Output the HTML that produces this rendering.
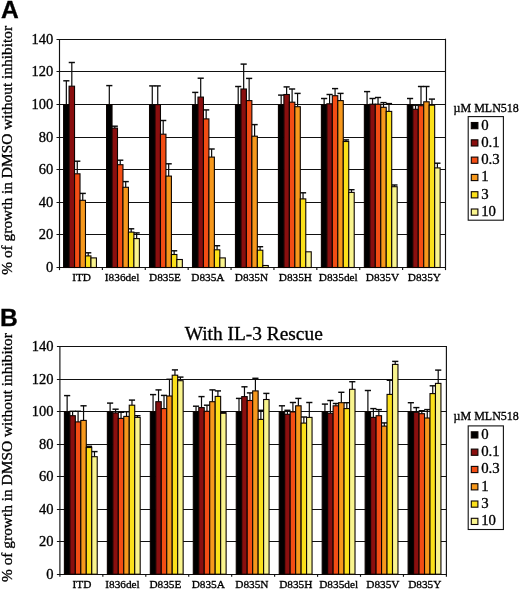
<!DOCTYPE html>
<html><head><meta charset="utf-8"><title>Figure</title>
<style>html,body{margin:0;padding:0;background:#fff}svg{display:block}text{stroke:#000;stroke-width:0.32px}</style></head>
<body>
<svg width="520" height="590" viewBox="0 0 520 590" font-family="'Liberation Serif', serif" fill="#000">
<rect width="520" height="590" fill="#fff"/>
<text x="0.9" y="18.3" font-family="'Liberation Sans', sans-serif" font-weight="bold" font-size="24.6" fill="#000">A</text>
<text x="0" y="326.3" font-family="'Liberation Sans', sans-serif" font-weight="bold" font-size="24.6" fill="#000">B</text>
<text x="253.7" y="340.1" text-anchor="middle" font-size="19.4">With IL-3 Rescue</text>
<line x1="56.50" y1="39.50" x2="445.50" y2="39.50" stroke="#111" stroke-width="1.2"/>
<text x="53.20" y="44.40" text-anchor="end" font-size="14.5">140</text>
<line x1="56.50" y1="71.50" x2="445.50" y2="71.50" stroke="#111" stroke-width="1.2"/>
<text x="53.20" y="76.40" text-anchor="end" font-size="14.5">120</text>
<line x1="56.50" y1="104.50" x2="445.50" y2="104.50" stroke="#111" stroke-width="1.2"/>
<text x="53.20" y="109.40" text-anchor="end" font-size="14.5">100</text>
<line x1="56.50" y1="137.50" x2="445.50" y2="137.50" stroke="#111" stroke-width="1.2"/>
<text x="53.20" y="142.40" text-anchor="end" font-size="14.5">80</text>
<line x1="56.50" y1="169.50" x2="445.50" y2="169.50" stroke="#111" stroke-width="1.2"/>
<text x="53.20" y="174.40" text-anchor="end" font-size="14.5">60</text>
<line x1="56.50" y1="202.50" x2="445.50" y2="202.50" stroke="#111" stroke-width="1.2"/>
<text x="53.20" y="207.40" text-anchor="end" font-size="14.5">40</text>
<line x1="56.50" y1="234.50" x2="445.50" y2="234.50" stroke="#111" stroke-width="1.2"/>
<text x="53.20" y="239.40" text-anchor="end" font-size="14.5">20</text>
<line x1="56.50" y1="267.50" x2="445.50" y2="267.50" stroke="#111" stroke-width="1.2"/>
<text x="53.20" y="272.40" text-anchor="end" font-size="14.5">0</text>
<line x1="59.50" y1="39.20" x2="59.50" y2="270.10" stroke="#111" stroke-width="1.15"/>
<line x1="445.50" y1="38.70" x2="445.50" y2="270.10" stroke="#111" stroke-width="1.15"/>
<line x1="102.39" y1="267.50" x2="102.39" y2="270.10" stroke="#111" stroke-width="1.15"/>
<line x1="145.28" y1="267.50" x2="145.28" y2="270.10" stroke="#111" stroke-width="1.15"/>
<line x1="188.17" y1="267.50" x2="188.17" y2="270.10" stroke="#111" stroke-width="1.15"/>
<line x1="231.06" y1="267.50" x2="231.06" y2="270.10" stroke="#111" stroke-width="1.15"/>
<line x1="273.94" y1="267.50" x2="273.94" y2="270.10" stroke="#111" stroke-width="1.15"/>
<line x1="316.83" y1="267.50" x2="316.83" y2="270.10" stroke="#111" stroke-width="1.15"/>
<line x1="359.72" y1="267.50" x2="359.72" y2="270.10" stroke="#111" stroke-width="1.15"/>
<line x1="402.61" y1="267.50" x2="402.61" y2="270.10" stroke="#111" stroke-width="1.15"/>
<line x1="66.34" y1="80.80" x2="66.34" y2="104.60" stroke="#0a0a0a" stroke-width="1.2"/>
<line x1="63.25" y1="80.80" x2="69.42" y2="80.80" stroke="#0a0a0a" stroke-width="1.45"/>
<line x1="71.81" y1="62.50" x2="71.81" y2="86.20" stroke="#0a0a0a" stroke-width="1.2"/>
<line x1="68.72" y1="62.50" x2="74.89" y2="62.50" stroke="#0a0a0a" stroke-width="1.45"/>
<line x1="77.28" y1="161.20" x2="77.28" y2="173.80" stroke="#0a0a0a" stroke-width="1.2"/>
<line x1="74.19" y1="161.20" x2="80.36" y2="161.20" stroke="#0a0a0a" stroke-width="1.45"/>
<line x1="82.75" y1="193.40" x2="82.75" y2="200.30" stroke="#0a0a0a" stroke-width="1.2"/>
<line x1="79.66" y1="193.40" x2="85.83" y2="193.40" stroke="#0a0a0a" stroke-width="1.45"/>
<line x1="88.22" y1="252.80" x2="88.22" y2="255.90" stroke="#0a0a0a" stroke-width="1.2"/>
<line x1="85.13" y1="252.80" x2="91.30" y2="252.80" stroke="#0a0a0a" stroke-width="1.45"/>
<rect x="63.60" y="104.60" width="5.47" height="162.90" fill="#000000" stroke="#0c0402" stroke-width="1.1"/>
<rect x="69.07" y="86.20" width="5.47" height="181.30" fill="#8a0f0f" stroke="#0c0402" stroke-width="1.1"/>
<rect x="74.54" y="173.80" width="5.47" height="93.70" fill="#f34d14" stroke="#0c0402" stroke-width="1.1"/>
<rect x="80.01" y="200.30" width="5.47" height="67.20" fill="#f6981c" stroke="#0c0402" stroke-width="1.1"/>
<rect x="85.48" y="255.90" width="5.47" height="11.60" fill="#fbe01a" stroke="#0c0402" stroke-width="1.1"/>
<rect x="90.95" y="257.90" width="5.47" height="9.60" fill="#f9f48e" stroke="#0c0402" stroke-width="1.1"/>
<text x="81.60" y="280.70" text-anchor="middle" font-size="11.3">ITD</text>
<line x1="109.30" y1="85.60" x2="109.30" y2="104.60" stroke="#0a0a0a" stroke-width="1.2"/>
<line x1="106.22" y1="85.60" x2="112.38" y2="85.60" stroke="#0a0a0a" stroke-width="1.45"/>
<line x1="114.77" y1="126.20" x2="114.77" y2="128.10" stroke="#0a0a0a" stroke-width="1.2"/>
<line x1="111.69" y1="126.20" x2="117.85" y2="126.20" stroke="#0a0a0a" stroke-width="1.45"/>
<line x1="120.24" y1="160.20" x2="120.24" y2="164.70" stroke="#0a0a0a" stroke-width="1.2"/>
<line x1="117.16" y1="160.20" x2="123.32" y2="160.20" stroke="#0a0a0a" stroke-width="1.45"/>
<line x1="125.71" y1="181.60" x2="125.71" y2="187.30" stroke="#0a0a0a" stroke-width="1.2"/>
<line x1="122.62" y1="181.60" x2="128.79" y2="181.60" stroke="#0a0a0a" stroke-width="1.45"/>
<line x1="131.18" y1="228.80" x2="131.18" y2="232.10" stroke="#0a0a0a" stroke-width="1.2"/>
<line x1="128.09" y1="228.80" x2="134.26" y2="228.80" stroke="#0a0a0a" stroke-width="1.45"/>
<line x1="136.65" y1="232.90" x2="136.65" y2="238.60" stroke="#0a0a0a" stroke-width="1.2"/>
<line x1="133.56" y1="232.90" x2="139.73" y2="232.90" stroke="#0a0a0a" stroke-width="1.45"/>
<rect x="106.56" y="104.60" width="5.47" height="162.90" fill="#000000" stroke="#0c0402" stroke-width="1.1"/>
<rect x="112.03" y="128.10" width="5.47" height="139.40" fill="#8a0f0f" stroke="#0c0402" stroke-width="1.1"/>
<rect x="117.50" y="164.70" width="5.47" height="102.80" fill="#f34d14" stroke="#0c0402" stroke-width="1.1"/>
<rect x="122.97" y="187.30" width="5.47" height="80.20" fill="#f6981c" stroke="#0c0402" stroke-width="1.1"/>
<rect x="128.44" y="232.10" width="5.47" height="35.40" fill="#fbe01a" stroke="#0c0402" stroke-width="1.1"/>
<rect x="133.91" y="238.60" width="5.47" height="28.90" fill="#f9f48e" stroke="#0c0402" stroke-width="1.1"/>
<text x="122.10" y="280.70" text-anchor="middle" font-size="11.3">I836del</text>
<line x1="152.27" y1="85.90" x2="152.27" y2="104.60" stroke="#0a0a0a" stroke-width="1.2"/>
<line x1="149.18" y1="85.90" x2="155.35" y2="85.90" stroke="#0a0a0a" stroke-width="1.45"/>
<line x1="157.74" y1="85.90" x2="157.74" y2="104.60" stroke="#0a0a0a" stroke-width="1.2"/>
<line x1="154.65" y1="85.90" x2="160.82" y2="85.90" stroke="#0a0a0a" stroke-width="1.45"/>
<line x1="163.21" y1="120.50" x2="163.21" y2="134.20" stroke="#0a0a0a" stroke-width="1.2"/>
<line x1="160.12" y1="120.50" x2="166.29" y2="120.50" stroke="#0a0a0a" stroke-width="1.45"/>
<line x1="168.68" y1="163.80" x2="168.68" y2="176.10" stroke="#0a0a0a" stroke-width="1.2"/>
<line x1="165.59" y1="163.80" x2="171.76" y2="163.80" stroke="#0a0a0a" stroke-width="1.45"/>
<line x1="174.15" y1="250.80" x2="174.15" y2="254.50" stroke="#0a0a0a" stroke-width="1.2"/>
<line x1="171.06" y1="250.80" x2="177.23" y2="250.80" stroke="#0a0a0a" stroke-width="1.45"/>
<rect x="149.53" y="104.60" width="5.47" height="162.90" fill="#000000" stroke="#0c0402" stroke-width="1.1"/>
<rect x="155.00" y="104.60" width="5.47" height="162.90" fill="#8a0f0f" stroke="#0c0402" stroke-width="1.1"/>
<rect x="160.47" y="134.20" width="5.47" height="133.30" fill="#f34d14" stroke="#0c0402" stroke-width="1.1"/>
<rect x="165.94" y="176.10" width="5.47" height="91.40" fill="#f6981c" stroke="#0c0402" stroke-width="1.1"/>
<rect x="171.41" y="254.50" width="5.47" height="13.00" fill="#fbe01a" stroke="#0c0402" stroke-width="1.1"/>
<rect x="176.88" y="259.50" width="5.47" height="8.00" fill="#f9f48e" stroke="#0c0402" stroke-width="1.1"/>
<text x="165.00" y="280.70" text-anchor="middle" font-size="11.3">D835E</text>
<line x1="195.23" y1="92.40" x2="195.23" y2="104.60" stroke="#0a0a0a" stroke-width="1.2"/>
<line x1="192.15" y1="92.40" x2="198.31" y2="92.40" stroke="#0a0a0a" stroke-width="1.45"/>
<line x1="200.70" y1="78.20" x2="200.70" y2="97.10" stroke="#0a0a0a" stroke-width="1.2"/>
<line x1="197.62" y1="78.20" x2="203.78" y2="78.20" stroke="#0a0a0a" stroke-width="1.45"/>
<line x1="206.17" y1="109.90" x2="206.17" y2="118.90" stroke="#0a0a0a" stroke-width="1.2"/>
<line x1="203.09" y1="109.90" x2="209.25" y2="109.90" stroke="#0a0a0a" stroke-width="1.45"/>
<line x1="211.64" y1="149.00" x2="211.64" y2="157.10" stroke="#0a0a0a" stroke-width="1.2"/>
<line x1="208.56" y1="149.00" x2="214.72" y2="149.00" stroke="#0a0a0a" stroke-width="1.45"/>
<line x1="217.11" y1="245.70" x2="217.11" y2="249.80" stroke="#0a0a0a" stroke-width="1.2"/>
<line x1="214.03" y1="245.70" x2="220.19" y2="245.70" stroke="#0a0a0a" stroke-width="1.45"/>
<rect x="192.50" y="104.60" width="5.47" height="162.90" fill="#000000" stroke="#0c0402" stroke-width="1.1"/>
<rect x="197.97" y="97.10" width="5.47" height="170.40" fill="#8a0f0f" stroke="#0c0402" stroke-width="1.1"/>
<rect x="203.44" y="118.90" width="5.47" height="148.60" fill="#f34d14" stroke="#0c0402" stroke-width="1.1"/>
<rect x="208.91" y="157.10" width="5.47" height="110.40" fill="#f6981c" stroke="#0c0402" stroke-width="1.1"/>
<rect x="214.38" y="249.80" width="5.47" height="17.70" fill="#fbe01a" stroke="#0c0402" stroke-width="1.1"/>
<rect x="219.84" y="257.90" width="5.47" height="9.60" fill="#f9f48e" stroke="#0c0402" stroke-width="1.1"/>
<text x="207.90" y="280.70" text-anchor="middle" font-size="11.3">D835A</text>
<line x1="238.20" y1="86.50" x2="238.20" y2="104.60" stroke="#0a0a0a" stroke-width="1.2"/>
<line x1="235.11" y1="86.50" x2="241.28" y2="86.50" stroke="#0a0a0a" stroke-width="1.45"/>
<line x1="243.67" y1="64.10" x2="243.67" y2="89.00" stroke="#0a0a0a" stroke-width="1.2"/>
<line x1="240.58" y1="64.10" x2="246.75" y2="64.10" stroke="#0a0a0a" stroke-width="1.45"/>
<line x1="249.14" y1="78.40" x2="249.14" y2="100.60" stroke="#0a0a0a" stroke-width="1.2"/>
<line x1="246.05" y1="78.40" x2="252.22" y2="78.40" stroke="#0a0a0a" stroke-width="1.45"/>
<line x1="254.61" y1="124.60" x2="254.61" y2="136.20" stroke="#0a0a0a" stroke-width="1.2"/>
<line x1="251.52" y1="124.60" x2="257.69" y2="124.60" stroke="#0a0a0a" stroke-width="1.45"/>
<line x1="260.08" y1="246.70" x2="260.08" y2="250.20" stroke="#0a0a0a" stroke-width="1.2"/>
<line x1="256.99" y1="246.70" x2="263.16" y2="246.70" stroke="#0a0a0a" stroke-width="1.45"/>
<rect x="235.46" y="104.60" width="5.47" height="162.90" fill="#000000" stroke="#0c0402" stroke-width="1.1"/>
<rect x="240.93" y="89.00" width="5.47" height="178.50" fill="#8a0f0f" stroke="#0c0402" stroke-width="1.1"/>
<rect x="246.40" y="100.60" width="5.47" height="166.90" fill="#f34d14" stroke="#0c0402" stroke-width="1.1"/>
<rect x="251.87" y="136.20" width="5.47" height="131.30" fill="#f6981c" stroke="#0c0402" stroke-width="1.1"/>
<rect x="257.34" y="250.20" width="5.47" height="17.30" fill="#fbe01a" stroke="#0c0402" stroke-width="1.1"/>
<rect x="262.81" y="265.50" width="5.47" height="2.00" fill="#f9f48e" stroke="#0c0402" stroke-width="1.1"/>
<text x="251.50" y="280.70" text-anchor="middle" font-size="11.3">D835N</text>
<line x1="281.16" y1="95.10" x2="281.16" y2="104.60" stroke="#0a0a0a" stroke-width="1.2"/>
<line x1="278.07" y1="95.10" x2="284.25" y2="95.10" stroke="#0a0a0a" stroke-width="1.45"/>
<line x1="286.63" y1="86.90" x2="286.63" y2="94.50" stroke="#0a0a0a" stroke-width="1.2"/>
<line x1="283.55" y1="86.90" x2="289.72" y2="86.90" stroke="#0a0a0a" stroke-width="1.45"/>
<line x1="292.10" y1="89.00" x2="292.10" y2="102.20" stroke="#0a0a0a" stroke-width="1.2"/>
<line x1="289.01" y1="89.00" x2="295.19" y2="89.00" stroke="#0a0a0a" stroke-width="1.45"/>
<line x1="297.57" y1="93.40" x2="297.57" y2="106.70" stroke="#0a0a0a" stroke-width="1.2"/>
<line x1="294.49" y1="93.40" x2="300.66" y2="93.40" stroke="#0a0a0a" stroke-width="1.45"/>
<line x1="303.04" y1="192.80" x2="303.04" y2="198.90" stroke="#0a0a0a" stroke-width="1.2"/>
<line x1="299.95" y1="192.80" x2="306.13" y2="192.80" stroke="#0a0a0a" stroke-width="1.45"/>
<rect x="278.43" y="104.60" width="5.47" height="162.90" fill="#000000" stroke="#0c0402" stroke-width="1.1"/>
<rect x="283.90" y="94.50" width="5.47" height="173.00" fill="#8a0f0f" stroke="#0c0402" stroke-width="1.1"/>
<rect x="289.37" y="102.20" width="5.47" height="165.30" fill="#f34d14" stroke="#0c0402" stroke-width="1.1"/>
<rect x="294.84" y="106.70" width="5.47" height="160.80" fill="#f6981c" stroke="#0c0402" stroke-width="1.1"/>
<rect x="300.31" y="198.90" width="5.47" height="68.60" fill="#fbe01a" stroke="#0c0402" stroke-width="1.1"/>
<rect x="305.78" y="251.80" width="5.47" height="15.70" fill="#f9f48e" stroke="#0c0402" stroke-width="1.1"/>
<text x="295.40" y="280.70" text-anchor="middle" font-size="11.3">D835H</text>
<line x1="324.13" y1="98.50" x2="324.13" y2="104.60" stroke="#0a0a0a" stroke-width="1.2"/>
<line x1="321.04" y1="98.50" x2="327.21" y2="98.50" stroke="#0a0a0a" stroke-width="1.45"/>
<line x1="329.60" y1="94.50" x2="329.60" y2="103.80" stroke="#0a0a0a" stroke-width="1.2"/>
<line x1="326.51" y1="94.50" x2="332.68" y2="94.50" stroke="#0a0a0a" stroke-width="1.45"/>
<line x1="335.07" y1="88.60" x2="335.07" y2="95.70" stroke="#0a0a0a" stroke-width="1.2"/>
<line x1="331.98" y1="88.60" x2="338.15" y2="88.60" stroke="#0a0a0a" stroke-width="1.45"/>
<line x1="340.54" y1="93.40" x2="340.54" y2="100.60" stroke="#0a0a0a" stroke-width="1.2"/>
<line x1="337.45" y1="93.40" x2="343.62" y2="93.40" stroke="#0a0a0a" stroke-width="1.45"/>
<line x1="346.01" y1="139.90" x2="346.01" y2="141.50" stroke="#0a0a0a" stroke-width="1.2"/>
<line x1="342.92" y1="139.90" x2="349.09" y2="139.90" stroke="#0a0a0a" stroke-width="1.45"/>
<line x1="351.48" y1="189.70" x2="351.48" y2="192.40" stroke="#0a0a0a" stroke-width="1.2"/>
<line x1="348.39" y1="189.70" x2="354.56" y2="189.70" stroke="#0a0a0a" stroke-width="1.45"/>
<rect x="321.39" y="104.60" width="5.47" height="162.90" fill="#000000" stroke="#0c0402" stroke-width="1.1"/>
<rect x="326.86" y="103.80" width="5.47" height="163.70" fill="#8a0f0f" stroke="#0c0402" stroke-width="1.1"/>
<rect x="332.33" y="95.70" width="5.47" height="171.80" fill="#f34d14" stroke="#0c0402" stroke-width="1.1"/>
<rect x="337.80" y="100.60" width="5.47" height="166.90" fill="#f6981c" stroke="#0c0402" stroke-width="1.1"/>
<rect x="343.27" y="141.50" width="5.47" height="126.00" fill="#fbe01a" stroke="#0c0402" stroke-width="1.1"/>
<rect x="348.74" y="192.40" width="5.47" height="75.10" fill="#f9f48e" stroke="#0c0402" stroke-width="1.1"/>
<text x="338.25" y="280.70" text-anchor="middle" font-size="11.3">D835del</text>
<line x1="367.09" y1="91.60" x2="367.09" y2="104.60" stroke="#0a0a0a" stroke-width="1.2"/>
<line x1="364.00" y1="91.60" x2="370.18" y2="91.60" stroke="#0a0a0a" stroke-width="1.45"/>
<line x1="372.56" y1="98.50" x2="372.56" y2="104.20" stroke="#0a0a0a" stroke-width="1.2"/>
<line x1="369.48" y1="98.50" x2="375.65" y2="98.50" stroke="#0a0a0a" stroke-width="1.45"/>
<line x1="378.03" y1="97.50" x2="378.03" y2="104.20" stroke="#0a0a0a" stroke-width="1.2"/>
<line x1="374.94" y1="97.50" x2="381.12" y2="97.50" stroke="#0a0a0a" stroke-width="1.45"/>
<line x1="383.50" y1="102.60" x2="383.50" y2="107.30" stroke="#0a0a0a" stroke-width="1.2"/>
<line x1="380.42" y1="102.60" x2="386.59" y2="102.60" stroke="#0a0a0a" stroke-width="1.45"/>
<line x1="388.97" y1="103.60" x2="388.97" y2="111.40" stroke="#0a0a0a" stroke-width="1.2"/>
<line x1="385.88" y1="103.60" x2="392.06" y2="103.60" stroke="#0a0a0a" stroke-width="1.45"/>
<line x1="394.44" y1="185.00" x2="394.44" y2="186.70" stroke="#0a0a0a" stroke-width="1.2"/>
<line x1="391.36" y1="185.00" x2="397.53" y2="185.00" stroke="#0a0a0a" stroke-width="1.45"/>
<rect x="364.36" y="104.60" width="5.47" height="162.90" fill="#000000" stroke="#0c0402" stroke-width="1.1"/>
<rect x="369.83" y="104.20" width="5.47" height="163.30" fill="#8a0f0f" stroke="#0c0402" stroke-width="1.1"/>
<rect x="375.30" y="104.20" width="5.47" height="163.30" fill="#f34d14" stroke="#0c0402" stroke-width="1.1"/>
<rect x="380.77" y="107.30" width="5.47" height="160.20" fill="#f6981c" stroke="#0c0402" stroke-width="1.1"/>
<rect x="386.24" y="111.40" width="5.47" height="156.10" fill="#fbe01a" stroke="#0c0402" stroke-width="1.1"/>
<rect x="391.71" y="186.70" width="5.47" height="80.80" fill="#f9f48e" stroke="#0c0402" stroke-width="1.1"/>
<text x="382.50" y="280.70" text-anchor="middle" font-size="11.3">D835V</text>
<line x1="410.06" y1="98.50" x2="410.06" y2="104.60" stroke="#0a0a0a" stroke-width="1.2"/>
<line x1="406.97" y1="98.50" x2="413.14" y2="98.50" stroke="#0a0a0a" stroke-width="1.45"/>
<line x1="415.53" y1="105.20" x2="415.53" y2="109.30" stroke="#0a0a0a" stroke-width="1.2"/>
<line x1="412.44" y1="105.20" x2="418.61" y2="105.20" stroke="#0a0a0a" stroke-width="1.45"/>
<line x1="421.00" y1="86.50" x2="421.00" y2="105.70" stroke="#0a0a0a" stroke-width="1.2"/>
<line x1="417.91" y1="86.50" x2="424.08" y2="86.50" stroke="#0a0a0a" stroke-width="1.45"/>
<line x1="426.47" y1="86.50" x2="426.47" y2="101.80" stroke="#0a0a0a" stroke-width="1.2"/>
<line x1="423.38" y1="86.50" x2="429.55" y2="86.50" stroke="#0a0a0a" stroke-width="1.45"/>
<line x1="431.94" y1="99.10" x2="431.94" y2="105.20" stroke="#0a0a0a" stroke-width="1.2"/>
<line x1="428.85" y1="99.10" x2="435.02" y2="99.10" stroke="#0a0a0a" stroke-width="1.45"/>
<line x1="437.41" y1="163.20" x2="437.41" y2="167.90" stroke="#0a0a0a" stroke-width="1.2"/>
<line x1="434.32" y1="163.20" x2="440.49" y2="163.20" stroke="#0a0a0a" stroke-width="1.45"/>
<rect x="407.32" y="104.60" width="5.47" height="162.90" fill="#000000" stroke="#0c0402" stroke-width="1.1"/>
<rect x="412.79" y="109.30" width="5.47" height="158.20" fill="#8a0f0f" stroke="#0c0402" stroke-width="1.1"/>
<rect x="418.26" y="105.70" width="5.47" height="161.80" fill="#f34d14" stroke="#0c0402" stroke-width="1.1"/>
<rect x="423.73" y="101.80" width="5.47" height="165.70" fill="#f6981c" stroke="#0c0402" stroke-width="1.1"/>
<rect x="429.20" y="105.20" width="5.47" height="162.30" fill="#fbe01a" stroke="#0c0402" stroke-width="1.1"/>
<rect x="434.67" y="167.90" width="5.47" height="99.60" fill="#f9f48e" stroke="#0c0402" stroke-width="1.1"/>
<text x="424.40" y="280.70" text-anchor="middle" font-size="11.3">D835Y</text>
<text x="453.6" y="112.20" font-size="12">µM MLN518</text>
<rect x="468.2" y="116.60" width="35.2" height="103.6" fill="#fff" stroke="#111" stroke-width="1.1"/>
<rect x="471.3" y="122.50" width="6.6" height="6.2" fill="#000000" stroke="#0c0402" stroke-width="1.1"/>
<text x="481.2" y="129.50" font-size="14.8">0</text>
<rect x="471.3" y="139.80" width="6.6" height="6.2" fill="#8a0f0f" stroke="#0c0402" stroke-width="1.1"/>
<text x="481.2" y="146.80" font-size="14.8">0.1</text>
<rect x="471.3" y="157.10" width="6.6" height="6.2" fill="#f34d14" stroke="#0c0402" stroke-width="1.1"/>
<text x="481.2" y="164.10" font-size="14.8">0.3</text>
<rect x="471.3" y="174.40" width="6.6" height="6.2" fill="#f6981c" stroke="#0c0402" stroke-width="1.1"/>
<text x="481.2" y="181.40" font-size="14.8">1</text>
<rect x="471.3" y="191.70" width="6.6" height="6.2" fill="#fbe01a" stroke="#0c0402" stroke-width="1.1"/>
<text x="481.2" y="198.70" font-size="14.8">3</text>
<rect x="471.3" y="209.00" width="6.6" height="6.2" fill="#f9f48e" stroke="#0c0402" stroke-width="1.1"/>
<text x="481.2" y="216.00" font-size="14.8">10</text>
<text transform="translate(12,150.35) rotate(-90)" text-anchor="middle" font-size="15.4">% of growth in DMSO without inhibitor</text>
<line x1="56.90" y1="346.50" x2="446.40" y2="346.50" stroke="#111" stroke-width="1.2"/>
<text x="53.60" y="351.40" text-anchor="end" font-size="14.5">140</text>
<line x1="56.90" y1="379.50" x2="446.40" y2="379.50" stroke="#111" stroke-width="1.2"/>
<text x="53.60" y="384.40" text-anchor="end" font-size="14.5">120</text>
<line x1="56.90" y1="411.50" x2="446.40" y2="411.50" stroke="#111" stroke-width="1.2"/>
<text x="53.60" y="416.40" text-anchor="end" font-size="14.5">100</text>
<line x1="56.90" y1="444.50" x2="446.40" y2="444.50" stroke="#111" stroke-width="1.2"/>
<text x="53.60" y="449.40" text-anchor="end" font-size="14.5">80</text>
<line x1="56.90" y1="476.50" x2="446.40" y2="476.50" stroke="#111" stroke-width="1.2"/>
<text x="53.60" y="481.40" text-anchor="end" font-size="14.5">60</text>
<line x1="56.90" y1="509.50" x2="446.40" y2="509.50" stroke="#111" stroke-width="1.2"/>
<text x="53.60" y="514.40" text-anchor="end" font-size="14.5">40</text>
<line x1="56.90" y1="541.50" x2="446.40" y2="541.50" stroke="#111" stroke-width="1.2"/>
<text x="53.60" y="546.40" text-anchor="end" font-size="14.5">20</text>
<line x1="56.90" y1="574.50" x2="446.40" y2="574.50" stroke="#111" stroke-width="1.2"/>
<text x="53.60" y="579.40" text-anchor="end" font-size="14.5">0</text>
<line x1="59.90" y1="346.60" x2="59.90" y2="576.80" stroke="#111" stroke-width="1.15"/>
<line x1="446.40" y1="346.10" x2="446.40" y2="576.80" stroke="#111" stroke-width="1.15"/>
<line x1="102.84" y1="574.20" x2="102.84" y2="576.80" stroke="#111" stroke-width="1.15"/>
<line x1="145.79" y1="574.20" x2="145.79" y2="576.80" stroke="#111" stroke-width="1.15"/>
<line x1="188.73" y1="574.20" x2="188.73" y2="576.80" stroke="#111" stroke-width="1.15"/>
<line x1="231.68" y1="574.20" x2="231.68" y2="576.80" stroke="#111" stroke-width="1.15"/>
<line x1="274.62" y1="574.20" x2="274.62" y2="576.80" stroke="#111" stroke-width="1.15"/>
<line x1="317.57" y1="574.20" x2="317.57" y2="576.80" stroke="#111" stroke-width="1.15"/>
<line x1="360.51" y1="574.20" x2="360.51" y2="576.80" stroke="#111" stroke-width="1.15"/>
<line x1="403.46" y1="574.20" x2="403.46" y2="576.80" stroke="#111" stroke-width="1.15"/>
<line x1="67.14" y1="395.60" x2="67.14" y2="411.70" stroke="#0a0a0a" stroke-width="1.2"/>
<line x1="64.05" y1="395.60" x2="70.22" y2="395.60" stroke="#0a0a0a" stroke-width="1.45"/>
<line x1="72.61" y1="411.30" x2="72.61" y2="415.70" stroke="#0a0a0a" stroke-width="1.2"/>
<line x1="69.52" y1="411.30" x2="75.69" y2="411.30" stroke="#0a0a0a" stroke-width="1.45"/>
<line x1="78.08" y1="411.30" x2="78.08" y2="421.90" stroke="#0a0a0a" stroke-width="1.2"/>
<line x1="74.99" y1="411.30" x2="81.16" y2="411.30" stroke="#0a0a0a" stroke-width="1.45"/>
<line x1="83.55" y1="405.80" x2="83.55" y2="420.40" stroke="#0a0a0a" stroke-width="1.2"/>
<line x1="80.46" y1="405.80" x2="86.63" y2="405.80" stroke="#0a0a0a" stroke-width="1.45"/>
<line x1="89.02" y1="446.30" x2="89.02" y2="447.50" stroke="#0a0a0a" stroke-width="1.2"/>
<line x1="85.93" y1="446.30" x2="92.10" y2="446.30" stroke="#0a0a0a" stroke-width="1.45"/>
<line x1="94.48" y1="451.60" x2="94.48" y2="456.70" stroke="#0a0a0a" stroke-width="1.2"/>
<line x1="91.40" y1="451.60" x2="97.57" y2="451.60" stroke="#0a0a0a" stroke-width="1.45"/>
<rect x="64.40" y="411.70" width="5.47" height="162.50" fill="#000000" stroke="#0c0402" stroke-width="1.1"/>
<rect x="69.87" y="415.70" width="5.47" height="158.50" fill="#8a0f0f" stroke="#0c0402" stroke-width="1.1"/>
<rect x="75.34" y="421.90" width="5.47" height="152.30" fill="#f34d14" stroke="#0c0402" stroke-width="1.1"/>
<rect x="80.81" y="420.40" width="5.47" height="153.80" fill="#f6981c" stroke="#0c0402" stroke-width="1.1"/>
<rect x="86.28" y="447.50" width="5.47" height="126.70" fill="#fbe01a" stroke="#0c0402" stroke-width="1.1"/>
<rect x="91.75" y="456.70" width="5.47" height="117.50" fill="#f9f48e" stroke="#0c0402" stroke-width="1.1"/>
<text x="82.00" y="588.10" text-anchor="middle" font-size="11.3">ITD</text>
<line x1="110.10" y1="403.10" x2="110.10" y2="411.70" stroke="#0a0a0a" stroke-width="1.2"/>
<line x1="107.02" y1="403.10" x2="113.19" y2="403.10" stroke="#0a0a0a" stroke-width="1.45"/>
<line x1="115.57" y1="409.20" x2="115.57" y2="412.90" stroke="#0a0a0a" stroke-width="1.2"/>
<line x1="112.49" y1="409.20" x2="118.66" y2="409.20" stroke="#0a0a0a" stroke-width="1.45"/>
<line x1="121.04" y1="412.30" x2="121.04" y2="418.40" stroke="#0a0a0a" stroke-width="1.2"/>
<line x1="117.96" y1="412.30" x2="124.12" y2="412.30" stroke="#0a0a0a" stroke-width="1.45"/>
<line x1="126.51" y1="411.70" x2="126.51" y2="416.40" stroke="#0a0a0a" stroke-width="1.2"/>
<line x1="123.43" y1="411.70" x2="129.59" y2="411.70" stroke="#0a0a0a" stroke-width="1.45"/>
<line x1="131.98" y1="400.10" x2="131.98" y2="405.20" stroke="#0a0a0a" stroke-width="1.2"/>
<line x1="128.90" y1="400.10" x2="135.06" y2="400.10" stroke="#0a0a0a" stroke-width="1.45"/>
<line x1="137.45" y1="415.70" x2="137.45" y2="417.40" stroke="#0a0a0a" stroke-width="1.2"/>
<line x1="134.37" y1="415.70" x2="140.53" y2="415.70" stroke="#0a0a0a" stroke-width="1.45"/>
<rect x="107.37" y="411.70" width="5.47" height="162.50" fill="#000000" stroke="#0c0402" stroke-width="1.1"/>
<rect x="112.84" y="412.90" width="5.47" height="161.30" fill="#8a0f0f" stroke="#0c0402" stroke-width="1.1"/>
<rect x="118.31" y="418.40" width="5.47" height="155.80" fill="#f34d14" stroke="#0c0402" stroke-width="1.1"/>
<rect x="123.78" y="416.40" width="5.47" height="157.80" fill="#f6981c" stroke="#0c0402" stroke-width="1.1"/>
<rect x="129.25" y="405.20" width="5.47" height="169.00" fill="#fbe01a" stroke="#0c0402" stroke-width="1.1"/>
<rect x="134.72" y="417.40" width="5.47" height="156.80" fill="#f9f48e" stroke="#0c0402" stroke-width="1.1"/>
<text x="122.50" y="588.10" text-anchor="middle" font-size="11.3">I836del</text>
<line x1="153.07" y1="394.60" x2="153.07" y2="411.70" stroke="#0a0a0a" stroke-width="1.2"/>
<line x1="149.98" y1="394.60" x2="156.15" y2="394.60" stroke="#0a0a0a" stroke-width="1.45"/>
<line x1="158.54" y1="389.90" x2="158.54" y2="401.70" stroke="#0a0a0a" stroke-width="1.2"/>
<line x1="155.45" y1="389.90" x2="161.62" y2="389.90" stroke="#0a0a0a" stroke-width="1.45"/>
<line x1="164.01" y1="395.40" x2="164.01" y2="408.60" stroke="#0a0a0a" stroke-width="1.2"/>
<line x1="160.92" y1="395.40" x2="167.09" y2="395.40" stroke="#0a0a0a" stroke-width="1.45"/>
<line x1="169.48" y1="379.30" x2="169.48" y2="396.00" stroke="#0a0a0a" stroke-width="1.2"/>
<line x1="166.39" y1="379.30" x2="172.56" y2="379.30" stroke="#0a0a0a" stroke-width="1.45"/>
<line x1="174.95" y1="369.90" x2="174.95" y2="375.20" stroke="#0a0a0a" stroke-width="1.2"/>
<line x1="171.86" y1="369.90" x2="178.03" y2="369.90" stroke="#0a0a0a" stroke-width="1.45"/>
<line x1="180.42" y1="377.10" x2="180.42" y2="380.70" stroke="#0a0a0a" stroke-width="1.2"/>
<line x1="177.33" y1="377.10" x2="183.50" y2="377.10" stroke="#0a0a0a" stroke-width="1.45"/>
<rect x="150.33" y="411.70" width="5.47" height="162.50" fill="#000000" stroke="#0c0402" stroke-width="1.1"/>
<rect x="155.80" y="401.70" width="5.47" height="172.50" fill="#8a0f0f" stroke="#0c0402" stroke-width="1.1"/>
<rect x="161.27" y="408.60" width="5.47" height="165.60" fill="#f34d14" stroke="#0c0402" stroke-width="1.1"/>
<rect x="166.74" y="396.00" width="5.47" height="178.20" fill="#f6981c" stroke="#0c0402" stroke-width="1.1"/>
<rect x="172.21" y="375.20" width="5.47" height="199.00" fill="#fbe01a" stroke="#0c0402" stroke-width="1.1"/>
<rect x="177.68" y="380.70" width="5.47" height="193.50" fill="#f9f48e" stroke="#0c0402" stroke-width="1.1"/>
<text x="165.40" y="588.10" text-anchor="middle" font-size="11.3">D835E</text>
<line x1="196.03" y1="406.20" x2="196.03" y2="411.70" stroke="#0a0a0a" stroke-width="1.2"/>
<line x1="192.95" y1="406.20" x2="199.12" y2="406.20" stroke="#0a0a0a" stroke-width="1.45"/>
<line x1="201.50" y1="396.60" x2="201.50" y2="407.60" stroke="#0a0a0a" stroke-width="1.2"/>
<line x1="198.42" y1="396.60" x2="204.59" y2="396.60" stroke="#0a0a0a" stroke-width="1.45"/>
<line x1="206.97" y1="405.20" x2="206.97" y2="411.30" stroke="#0a0a0a" stroke-width="1.2"/>
<line x1="203.89" y1="405.20" x2="210.06" y2="405.20" stroke="#0a0a0a" stroke-width="1.45"/>
<line x1="212.44" y1="389.90" x2="212.44" y2="401.70" stroke="#0a0a0a" stroke-width="1.2"/>
<line x1="209.36" y1="389.90" x2="215.53" y2="389.90" stroke="#0a0a0a" stroke-width="1.45"/>
<line x1="217.91" y1="390.90" x2="217.91" y2="396.40" stroke="#0a0a0a" stroke-width="1.2"/>
<line x1="214.83" y1="390.90" x2="221.00" y2="390.90" stroke="#0a0a0a" stroke-width="1.45"/>
<line x1="223.38" y1="412.30" x2="223.38" y2="413.30" stroke="#0a0a0a" stroke-width="1.2"/>
<line x1="220.30" y1="412.30" x2="226.47" y2="412.30" stroke="#0a0a0a" stroke-width="1.45"/>
<rect x="193.30" y="411.70" width="5.47" height="162.50" fill="#000000" stroke="#0c0402" stroke-width="1.1"/>
<rect x="198.77" y="407.60" width="5.47" height="166.60" fill="#8a0f0f" stroke="#0c0402" stroke-width="1.1"/>
<rect x="204.24" y="411.30" width="5.47" height="162.90" fill="#f34d14" stroke="#0c0402" stroke-width="1.1"/>
<rect x="209.71" y="401.70" width="5.47" height="172.50" fill="#f6981c" stroke="#0c0402" stroke-width="1.1"/>
<rect x="215.18" y="396.40" width="5.47" height="177.80" fill="#fbe01a" stroke="#0c0402" stroke-width="1.1"/>
<rect x="220.65" y="413.30" width="5.47" height="160.90" fill="#f9f48e" stroke="#0c0402" stroke-width="1.1"/>
<text x="208.30" y="588.10" text-anchor="middle" font-size="11.3">D835A</text>
<line x1="239.00" y1="398.40" x2="239.00" y2="411.70" stroke="#0a0a0a" stroke-width="1.2"/>
<line x1="235.91" y1="398.40" x2="242.08" y2="398.40" stroke="#0a0a0a" stroke-width="1.45"/>
<line x1="244.47" y1="386.80" x2="244.47" y2="396.60" stroke="#0a0a0a" stroke-width="1.2"/>
<line x1="241.38" y1="386.80" x2="247.55" y2="386.80" stroke="#0a0a0a" stroke-width="1.45"/>
<line x1="249.94" y1="392.90" x2="249.94" y2="400.50" stroke="#0a0a0a" stroke-width="1.2"/>
<line x1="246.85" y1="392.90" x2="253.02" y2="392.90" stroke="#0a0a0a" stroke-width="1.45"/>
<line x1="255.41" y1="378.30" x2="255.41" y2="390.90" stroke="#0a0a0a" stroke-width="1.2"/>
<line x1="252.32" y1="378.30" x2="258.49" y2="378.30" stroke="#0a0a0a" stroke-width="1.45"/>
<line x1="260.88" y1="410.30" x2="260.88" y2="419.40" stroke="#0a0a0a" stroke-width="1.2"/>
<line x1="257.79" y1="410.30" x2="263.96" y2="410.30" stroke="#0a0a0a" stroke-width="1.45"/>
<line x1="266.35" y1="393.40" x2="266.35" y2="399.50" stroke="#0a0a0a" stroke-width="1.2"/>
<line x1="263.26" y1="393.40" x2="269.43" y2="393.40" stroke="#0a0a0a" stroke-width="1.45"/>
<rect x="236.26" y="411.70" width="5.47" height="162.50" fill="#000000" stroke="#0c0402" stroke-width="1.1"/>
<rect x="241.73" y="396.60" width="5.47" height="177.60" fill="#8a0f0f" stroke="#0c0402" stroke-width="1.1"/>
<rect x="247.20" y="400.50" width="5.47" height="173.70" fill="#f34d14" stroke="#0c0402" stroke-width="1.1"/>
<rect x="252.67" y="390.90" width="5.47" height="183.30" fill="#f6981c" stroke="#0c0402" stroke-width="1.1"/>
<rect x="258.14" y="419.40" width="5.47" height="154.80" fill="#fbe01a" stroke="#0c0402" stroke-width="1.1"/>
<rect x="263.61" y="399.50" width="5.47" height="174.70" fill="#f9f48e" stroke="#0c0402" stroke-width="1.1"/>
<text x="251.90" y="588.10" text-anchor="middle" font-size="11.3">D835N</text>
<line x1="281.96" y1="405.80" x2="281.96" y2="411.70" stroke="#0a0a0a" stroke-width="1.2"/>
<line x1="278.88" y1="405.80" x2="285.05" y2="405.80" stroke="#0a0a0a" stroke-width="1.45"/>
<line x1="287.43" y1="410.30" x2="287.43" y2="414.30" stroke="#0a0a0a" stroke-width="1.2"/>
<line x1="284.35" y1="410.30" x2="290.52" y2="410.30" stroke="#0a0a0a" stroke-width="1.45"/>
<line x1="292.90" y1="402.50" x2="292.90" y2="411.90" stroke="#0a0a0a" stroke-width="1.2"/>
<line x1="289.81" y1="402.50" x2="295.99" y2="402.50" stroke="#0a0a0a" stroke-width="1.45"/>
<line x1="298.37" y1="398.40" x2="298.37" y2="405.80" stroke="#0a0a0a" stroke-width="1.2"/>
<line x1="295.29" y1="398.40" x2="301.46" y2="398.40" stroke="#0a0a0a" stroke-width="1.45"/>
<line x1="303.84" y1="417.00" x2="303.84" y2="423.10" stroke="#0a0a0a" stroke-width="1.2"/>
<line x1="300.75" y1="417.00" x2="306.93" y2="417.00" stroke="#0a0a0a" stroke-width="1.45"/>
<line x1="309.31" y1="402.50" x2="309.31" y2="417.40" stroke="#0a0a0a" stroke-width="1.2"/>
<line x1="306.23" y1="402.50" x2="312.40" y2="402.50" stroke="#0a0a0a" stroke-width="1.45"/>
<rect x="279.23" y="411.70" width="5.47" height="162.50" fill="#000000" stroke="#0c0402" stroke-width="1.1"/>
<rect x="284.70" y="414.30" width="5.47" height="159.90" fill="#8a0f0f" stroke="#0c0402" stroke-width="1.1"/>
<rect x="290.17" y="411.90" width="5.47" height="162.30" fill="#f34d14" stroke="#0c0402" stroke-width="1.1"/>
<rect x="295.64" y="405.80" width="5.47" height="168.40" fill="#f6981c" stroke="#0c0402" stroke-width="1.1"/>
<rect x="301.11" y="423.10" width="5.47" height="151.10" fill="#fbe01a" stroke="#0c0402" stroke-width="1.1"/>
<rect x="306.58" y="417.40" width="5.47" height="156.80" fill="#f9f48e" stroke="#0c0402" stroke-width="1.1"/>
<text x="295.80" y="588.10" text-anchor="middle" font-size="11.3">D835H</text>
<line x1="324.93" y1="404.10" x2="324.93" y2="411.70" stroke="#0a0a0a" stroke-width="1.2"/>
<line x1="321.84" y1="404.10" x2="328.01" y2="404.10" stroke="#0a0a0a" stroke-width="1.45"/>
<line x1="330.40" y1="400.50" x2="330.40" y2="413.30" stroke="#0a0a0a" stroke-width="1.2"/>
<line x1="327.31" y1="400.50" x2="333.48" y2="400.50" stroke="#0a0a0a" stroke-width="1.45"/>
<line x1="335.87" y1="403.50" x2="335.87" y2="405.80" stroke="#0a0a0a" stroke-width="1.2"/>
<line x1="332.78" y1="403.50" x2="338.95" y2="403.50" stroke="#0a0a0a" stroke-width="1.45"/>
<line x1="341.34" y1="392.30" x2="341.34" y2="402.70" stroke="#0a0a0a" stroke-width="1.2"/>
<line x1="338.25" y1="392.30" x2="344.42" y2="392.30" stroke="#0a0a0a" stroke-width="1.45"/>
<line x1="346.81" y1="402.70" x2="346.81" y2="408.60" stroke="#0a0a0a" stroke-width="1.2"/>
<line x1="343.72" y1="402.70" x2="349.89" y2="402.70" stroke="#0a0a0a" stroke-width="1.45"/>
<line x1="352.28" y1="381.70" x2="352.28" y2="389.30" stroke="#0a0a0a" stroke-width="1.2"/>
<line x1="349.19" y1="381.70" x2="355.36" y2="381.70" stroke="#0a0a0a" stroke-width="1.45"/>
<rect x="322.19" y="411.70" width="5.47" height="162.50" fill="#000000" stroke="#0c0402" stroke-width="1.1"/>
<rect x="327.66" y="413.30" width="5.47" height="160.90" fill="#8a0f0f" stroke="#0c0402" stroke-width="1.1"/>
<rect x="333.13" y="405.80" width="5.47" height="168.40" fill="#f34d14" stroke="#0c0402" stroke-width="1.1"/>
<rect x="338.60" y="402.70" width="5.47" height="171.50" fill="#f6981c" stroke="#0c0402" stroke-width="1.1"/>
<rect x="344.07" y="408.60" width="5.47" height="165.60" fill="#fbe01a" stroke="#0c0402" stroke-width="1.1"/>
<rect x="349.54" y="389.30" width="5.47" height="184.90" fill="#f9f48e" stroke="#0c0402" stroke-width="1.1"/>
<text x="338.65" y="588.10" text-anchor="middle" font-size="11.3">D835del</text>
<line x1="367.89" y1="390.50" x2="367.89" y2="411.70" stroke="#0a0a0a" stroke-width="1.2"/>
<line x1="364.80" y1="390.50" x2="370.98" y2="390.50" stroke="#0a0a0a" stroke-width="1.45"/>
<line x1="373.36" y1="408.60" x2="373.36" y2="417.40" stroke="#0a0a0a" stroke-width="1.2"/>
<line x1="370.27" y1="408.60" x2="376.45" y2="408.60" stroke="#0a0a0a" stroke-width="1.45"/>
<line x1="378.83" y1="409.60" x2="378.83" y2="415.70" stroke="#0a0a0a" stroke-width="1.2"/>
<line x1="375.74" y1="409.60" x2="381.92" y2="409.60" stroke="#0a0a0a" stroke-width="1.45"/>
<line x1="384.30" y1="422.90" x2="384.30" y2="426.10" stroke="#0a0a0a" stroke-width="1.2"/>
<line x1="381.21" y1="422.90" x2="387.39" y2="422.90" stroke="#0a0a0a" stroke-width="1.45"/>
<line x1="389.77" y1="380.30" x2="389.77" y2="394.40" stroke="#0a0a0a" stroke-width="1.2"/>
<line x1="386.68" y1="380.30" x2="392.86" y2="380.30" stroke="#0a0a0a" stroke-width="1.45"/>
<line x1="395.24" y1="361.40" x2="395.24" y2="364.40" stroke="#0a0a0a" stroke-width="1.2"/>
<line x1="392.15" y1="361.40" x2="398.33" y2="361.40" stroke="#0a0a0a" stroke-width="1.45"/>
<rect x="365.15" y="411.70" width="5.47" height="162.50" fill="#000000" stroke="#0c0402" stroke-width="1.1"/>
<rect x="370.62" y="417.40" width="5.47" height="156.80" fill="#8a0f0f" stroke="#0c0402" stroke-width="1.1"/>
<rect x="376.09" y="415.70" width="5.47" height="158.50" fill="#f34d14" stroke="#0c0402" stroke-width="1.1"/>
<rect x="381.56" y="426.10" width="5.47" height="148.10" fill="#f6981c" stroke="#0c0402" stroke-width="1.1"/>
<rect x="387.03" y="394.40" width="5.47" height="179.80" fill="#fbe01a" stroke="#0c0402" stroke-width="1.1"/>
<rect x="392.50" y="364.40" width="5.47" height="209.80" fill="#f9f48e" stroke="#0c0402" stroke-width="1.1"/>
<text x="382.90" y="588.10" text-anchor="middle" font-size="11.3">D835V</text>
<line x1="410.86" y1="402.70" x2="410.86" y2="411.70" stroke="#0a0a0a" stroke-width="1.2"/>
<line x1="407.77" y1="402.70" x2="413.94" y2="402.70" stroke="#0a0a0a" stroke-width="1.45"/>
<line x1="416.33" y1="407.60" x2="416.33" y2="412.30" stroke="#0a0a0a" stroke-width="1.2"/>
<line x1="413.24" y1="407.60" x2="419.41" y2="407.60" stroke="#0a0a0a" stroke-width="1.45"/>
<line x1="421.80" y1="410.70" x2="421.80" y2="413.70" stroke="#0a0a0a" stroke-width="1.2"/>
<line x1="418.71" y1="410.70" x2="424.88" y2="410.70" stroke="#0a0a0a" stroke-width="1.45"/>
<line x1="427.27" y1="409.60" x2="427.27" y2="418.00" stroke="#0a0a0a" stroke-width="1.2"/>
<line x1="424.18" y1="409.60" x2="430.35" y2="409.60" stroke="#0a0a0a" stroke-width="1.45"/>
<line x1="432.74" y1="385.80" x2="432.74" y2="393.60" stroke="#0a0a0a" stroke-width="1.2"/>
<line x1="429.65" y1="385.80" x2="435.82" y2="385.80" stroke="#0a0a0a" stroke-width="1.45"/>
<line x1="438.21" y1="370.10" x2="438.21" y2="383.40" stroke="#0a0a0a" stroke-width="1.2"/>
<line x1="435.12" y1="370.10" x2="441.29" y2="370.10" stroke="#0a0a0a" stroke-width="1.45"/>
<rect x="408.12" y="411.70" width="5.47" height="162.50" fill="#000000" stroke="#0c0402" stroke-width="1.1"/>
<rect x="413.59" y="412.30" width="5.47" height="161.90" fill="#8a0f0f" stroke="#0c0402" stroke-width="1.1"/>
<rect x="419.06" y="413.70" width="5.47" height="160.50" fill="#f34d14" stroke="#0c0402" stroke-width="1.1"/>
<rect x="424.53" y="418.00" width="5.47" height="156.20" fill="#f6981c" stroke="#0c0402" stroke-width="1.1"/>
<rect x="430.00" y="393.60" width="5.47" height="180.60" fill="#fbe01a" stroke="#0c0402" stroke-width="1.1"/>
<rect x="435.47" y="383.40" width="5.47" height="190.80" fill="#f9f48e" stroke="#0c0402" stroke-width="1.1"/>
<text x="424.80" y="588.10" text-anchor="middle" font-size="11.3">D835Y</text>
<text x="453.6" y="420.20" font-size="12">µM MLN518</text>
<rect x="468.2" y="425.90" width="35.2" height="103.6" fill="#fff" stroke="#111" stroke-width="1.1"/>
<rect x="471.3" y="431.80" width="6.6" height="6.2" fill="#000000" stroke="#0c0402" stroke-width="1.1"/>
<text x="481.2" y="438.80" font-size="14.8">0</text>
<rect x="471.3" y="449.10" width="6.6" height="6.2" fill="#8a0f0f" stroke="#0c0402" stroke-width="1.1"/>
<text x="481.2" y="456.10" font-size="14.8">0.1</text>
<rect x="471.3" y="466.40" width="6.6" height="6.2" fill="#f34d14" stroke="#0c0402" stroke-width="1.1"/>
<text x="481.2" y="473.40" font-size="14.8">0.3</text>
<rect x="471.3" y="483.70" width="6.6" height="6.2" fill="#f6981c" stroke="#0c0402" stroke-width="1.1"/>
<text x="481.2" y="490.70" font-size="14.8">1</text>
<rect x="471.3" y="501.00" width="6.6" height="6.2" fill="#fbe01a" stroke="#0c0402" stroke-width="1.1"/>
<text x="481.2" y="508.00" font-size="14.8">3</text>
<rect x="471.3" y="518.30" width="6.6" height="6.2" fill="#f9f48e" stroke="#0c0402" stroke-width="1.1"/>
<text x="481.2" y="525.30" font-size="14.8">10</text>
<text transform="translate(12,457.60) rotate(-90)" text-anchor="middle" font-size="15.4">% of growth in DMSO without inhibitor</text>
</svg>
</body></html>
